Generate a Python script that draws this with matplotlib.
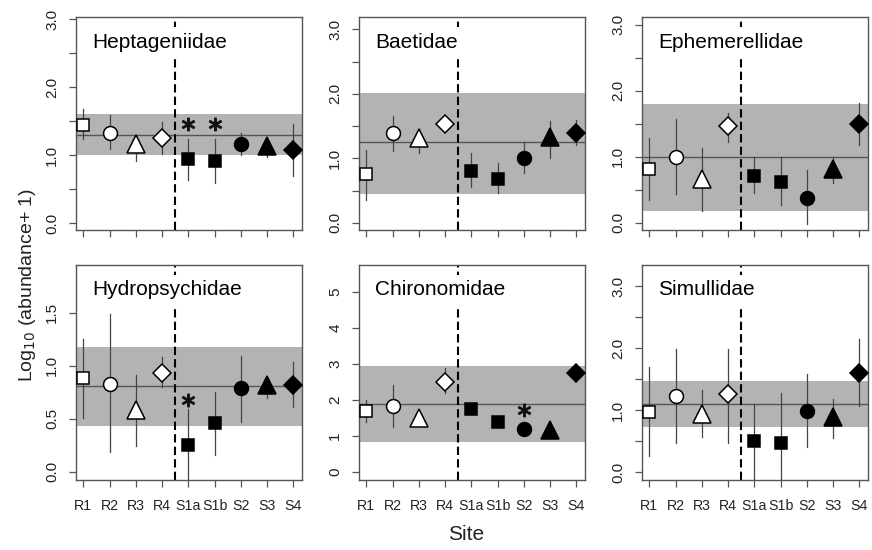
import matplotlib
matplotlib.use("Agg")
import matplotlib.pyplot as plt

plt.rcParams['font.family'] = ['Liberation Sans', 'DejaVu Sans']

sites = ["R1", "R2", "R3", "R4", "S1a", "S1b", "S2", "S3", "S4"]

taxa = ["Heptageniidae", "Baetidae", "Ephemerellidae",
        "Hydropsychidae", "Chironomidae", "Simullidae"]

hept_mean = [1.45, 1.33, 1.16, 1.25, 0.94, 0.92, 1.16, 1.14, 1.07]
hept_lo = [1.23, 1.09, 0.92, 1.02, 0.63, 0.59, 1.00, 0.97, 0.70]
hept_hi = [1.68, 1.59, 1.29, 1.49, 1.24, 1.24, 1.32, 1.27, 1.46]

baet_mean = [0.755, 1.39, 1.31, 1.53, 0.81, 0.68, 1.01, 1.33, 1.40]
baet_lo = [0.35, 1.12, 1.08, 1.48, 0.56, 0.46, 0.78, 1.01, 1.21]
baet_hi = [1.13, 1.66, 1.46, 1.58, 1.09, 0.93, 1.26, 1.58, 1.59]

ephem_mean = [0.81, 1.00, 0.67, 1.46, 0.71, 0.62, 0.38, 0.82, 1.49]
ephem_lo = [0.35, 0.435, 0.18, 1.23, 0.445, 0.27, -0.02, 0.61, 1.18]
ephem_hi = [1.28, 1.57, 1.13, 1.66, 1.00, 1.00, 0.80, 1.00, 1.81]

hydro_mean = [0.887, 0.83, 0.58, 0.93, 0.25, 0.456, 0.786, 0.82, 0.82]
hydro_lo = [0.51, 0.18, 0.24, 0.80, -0.11, 0.157, 0.47, 0.69, 0.61]
hydro_hi = [1.25, 1.49, 0.91, 1.08, 0.59, 0.755, 1.09, 0.90, 1.03]

chiro_mean = [1.69, 1.82, 1.48, 2.50, 1.73, 1.37, 1.19, 1.16, 2.75]
chiro_lo = [1.39, 1.23, 1.40, 2.18, 1.68, 1.30, 1.03, 0.90, 2.55]
chiro_hi = [2.00, 2.41, 1.55, 2.87, 1.78, 1.44, 1.34, 1.34, 3.00]

simul_mean = [0.97, 1.22, 0.94, 1.25, 0.50, 0.47, 0.985, 0.89, 1.60]
simul_lo = [0.25, 0.46, 0.57, 0.47, -0.19, -0.19, 0.40, 0.55, 1.06]
simul_hi = [1.69, 1.98, 1.32, 1.99, 1.09, 1.27, 1.58, 1.18, 2.15]

# reference band (low, high) and reference mean line per taxon
band_lo = [1.00, 0.455, 0.18, 0.43, 0.83, 0.72]
band_hi = [1.60, 2.02, 1.80, 1.18, 2.94, 1.46]
ref_line = [1.30, 1.25, 1.00, 0.81, 1.88, 1.09]

# asterisks: (taxon index, site, y)
asterisks = [(0, "S1a", 1.46), (0, "S1b", 1.46), (3, "S1a", 0.68), (4, "S2", 1.71)]

means = [hept_mean, baet_mean, ephem_mean, hydro_mean, chiro_mean, simul_mean]
los = [hept_lo, baet_lo, ephem_lo, hydro_lo, chiro_lo, simul_lo]
his = [hept_hi, baet_hi, ephem_hi, hydro_hi, chiro_hi, simul_hi]

ylims = [(-0.10, 3.03), (-0.11, 3.19), (-0.11, 3.12),
         (-0.08, 1.95), (-0.23, 5.74), (-0.13, 3.34)]

markers = ['s', 'o', '^', 'D', 's', 's', 'o', '^', 'D']
msizes = {'s': 8, 'o': 10, '^': 13, 'D': 9}
filled = [False, False, False, False, True, True, True, True, True]

fig = plt.figure(figsize=(8.72, 5.5), dpi=100)
W, H = 872.0, 550.0
lefts = [76, 359, 642]
tops = [17, 265]
bottoms = [230, 480]

x = list(range(1, len(sites) + 1))
spine_col = '#555555'

for k in range(6):
    r, c = divmod(k, 3)
    l = lefts[c]
    ax = fig.add_axes([l / W, 1 - bottoms[r] / H, 226 / W, (bottoms[r] - tops[r]) / H])
    ax.set_xlim(0.72, 9.33)
    ax.set_ylim(*ylims[k])
    ax.axhspan(band_lo[k], band_hi[k], color='#b3b3b3', lw=0, zorder=0)
    ax.axhline(ref_line[k], color='#555555', lw=1.0, zorder=1)
    ax.axvline(4.5, color='black', lw=1.5, ls=(0, (4, 2)), zorder=2)
    for i in range(len(sites)):
        ax.plot([x[i], x[i]], [los[k][i], his[k][i]], color='#444444', lw=0.9, zorder=3)
        m = markers[i]
        ax.plot(x[i], means[k][i], marker=m, ms=msizes[m],
                mfc='black' if filled[i] else 'white', mec='black', mew=1.1,
                ls='none', zorder=4)
    for (ti, s, yv) in asterisks:
        if ti == k:
            ax.plot(sites.index(s) + 1, yv, marker='$*$', ms=9, color='#111111',
                    ls='none', zorder=5)
    ax.text(16 / 226, 1 - 25 / (bottoms[r] - tops[r]), taxa[k],
            transform=ax.transAxes, ha='left', va='center', fontsize=15, zorder=6,
            bbox=dict(boxstyle='square,pad=0.25', facecolor='white', edgecolor='none'))
    # y ticks
    if k == 3:
        yt = [0.0, 0.5, 1.0, 1.5]
        yl = ["0.0", "0.5", "1.0", "1.5"]
    elif k == 4:
        yt = [0, 1, 2, 3, 4, 5]
        yl = ["0", "1", "2", "3", "4", "5"]
    else:
        yt = [0.0, 0.5, 1.0, 1.5, 2.0, 2.5, 3.0]
        yl = ["0.0", "", "1.0", "", "2.0", "", "3.0"]
    ax.set_yticks(yt)
    ax.set_yticklabels(yl, rotation=90, va='center')
    ax.set_xticks(x)
    if r == 1:
        ax.set_xticklabels(sites)
    else:
        ax.set_xticklabels([])
    ax.tick_params(axis='y', length=5, width=0.9, color=spine_col, pad=7, labelsize=11,
                   labelcolor='#222222')
    ax.tick_params(axis='x', length=5, width=0.9, color=spine_col, pad=9, labelsize=10.2,
                   labelcolor='#222222')
    for sp in ax.spines.values():
        sp.set_color(spine_col)
        sp.set_linewidth(1.0)

fig.text(28 / W, 1 - 285 / H, 'Log$_{10}$ (abundance+ 1)', rotation=90,
         ha='center', va='center', fontsize=14, color='#222222')
fig.text(466 / W, 1 - 535 / H, 'Site', ha='center', va='center', fontsize=15,
         color='#222222')

fig.savefig('out.png', dpi=100)
